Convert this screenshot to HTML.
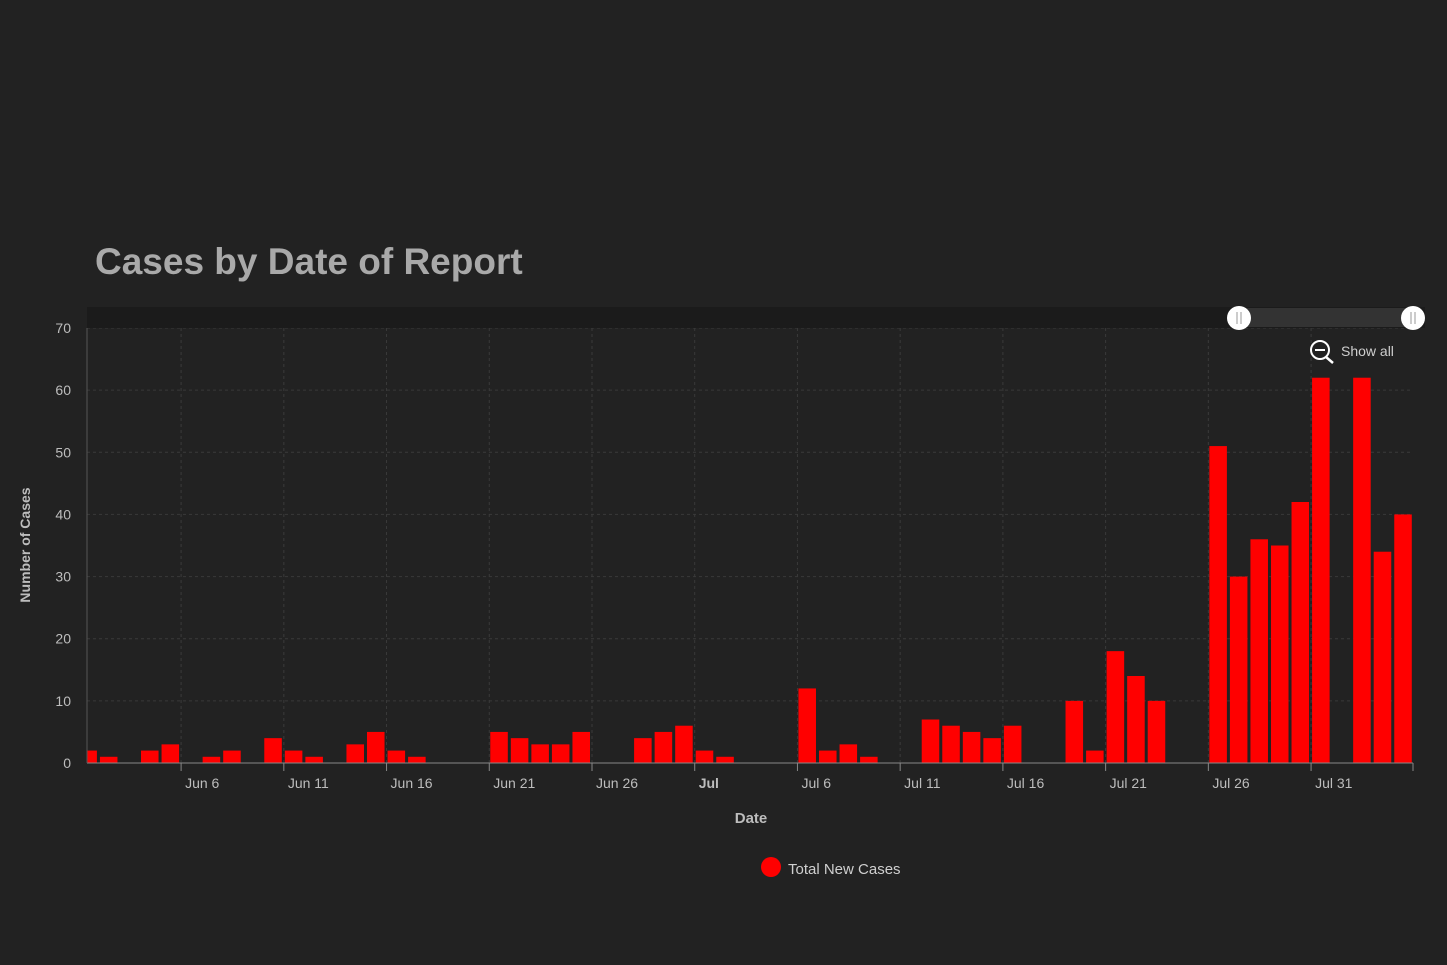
<!DOCTYPE html>
<html><head><meta charset="utf-8"><style>
body{margin:0;background:#222222;width:1447px;height:965px;overflow:hidden;font-family:"Liberation Sans",sans-serif;}
svg{display:block}
</style></head><body>
<svg id="chart" width="1447" height="965">
<rect width="1447" height="965" fill="#222222"/>
<text x="95" y="274" font-size="37" font-weight="bold" fill="#a9a9a9">Cases by Date of Report</text>
<g id="grid"></g>
<g id="bars"></g>
<g id="axes"></g>
<rect x="87" y="307" width="1338" height="21" fill="#1b1b1b"/>
<rect x="1239" y="308" width="174" height="19" fill="#333"/>
<g><circle cx="1239" cy="318" r="12" fill="#fff"/><line x1="1237" y1="312" x2="1237" y2="324" stroke="#999"/><line x1="1241" y1="312" x2="1241" y2="324" stroke="#999"/></g>
<g><circle cx="1413" cy="318" r="12" fill="#fff"/><line x1="1411" y1="312" x2="1411" y2="324" stroke="#999"/><line x1="1415" y1="312" x2="1415" y2="324" stroke="#999"/></g>
<g>
<circle cx="1320" cy="350" r="9" fill="none" stroke="#fff" stroke-width="2"/>
<line x1="1315" y1="350" x2="1325" y2="350" stroke="#fff" stroke-width="2"/>
<line x1="1326" y1="357" x2="1333" y2="363" stroke="#fff" stroke-width="2.5"/>
<text x="1341" y="356" font-size="14" fill="#cfcfcf">Show all</text>
</g>
<text transform="translate(30,545) rotate(-90)" text-anchor="middle" font-size="14" font-weight="bold" fill="#bdbdbd">Number of Cases</text>
<text x="751" y="823" text-anchor="middle" font-size="15" font-weight="bold" fill="#bdbdbd">Date</text>
<g>
<circle cx="771" cy="867" r="10" fill="#ff0000"/>
<text x="788" y="874" font-size="15" fill="#cfcfcf">Total New Cases</text>
</g>
</svg>
<script>
const values=[2,1,0,2,3,0,1,2,0,4,2,1,0,3,5,2,1,0,0,0,5,4,3,3,5,0,0,4,5,6,2,1,0,0,0,12,2,3,1,0,0,7,6,5,4,6,0,0,10,2,18,14,10,0,0,51,30,36,35,42,62,0,62,34,40];
const yTicks=[0,10,20,30,40,50,60,70];
const xTickLabels=["Jun 6","Jun 11","Jun 16","Jun 21","Jun 26","Jul","Jul 6","Jul 11","Jul 16","Jul 21","Jul 26","Jul 31"];
const xTickDays=[5,10,15,20,25,30,35,40,45,50,55,60];
const NS="http://www.w3.org/2000/svg";
const X0=87,X1=1413,Y0=763,Y1=328,dayW=20.545,startDay=0.42;
function x(d){return X0+(d-startDay)*dayW;}
function y(v){return Y0-(v/70)*(Y0-Y1);}
function mk(t,a,p){const e=document.createElementNS(NS,t);for(const k in a)e.setAttribute(k,a[k]);p.appendChild(e);return e;}
const grid=document.getElementById('grid'),bars=document.getElementById('bars'),axes=document.getElementById('axes');
yTicks.forEach(v=>{
  const l=mk('line',{x1:X0,x2:X1,y1:y(v),y2:y(v),stroke:'#3a3a3a','stroke-dasharray':'3,3'},grid);
  
  
  const t=mk('text',{x:71,y:y(v)+5,'text-anchor':'end','font-size':14,fill:'#bdbdbd'},axes);
  t.textContent=v;
  
  
});
xTickDays.forEach((d,i)=>{
  const xx=x(d);
  const l=mk('line',{x1:xx,x2:xx,y1:Y1,y2:Y0,stroke:'#3a3a3a','stroke-dasharray':'3,3'},grid);
  
  
  mk('line',{x1:xx,x2:xx,y1:Y0,y2:Y0+8,stroke:'#888'},axes);
  const t=mk('text',{x:xx+4,y:788,'font-size':14,fill:'#bdbdbd','font-weight':xTickLabels[i]==='Jul'?'bold':'normal'},axes);
  t.textContent=xTickLabels[i];
  
  
});
values.forEach((v,i)=>{
  if(!v)return;
  let l=x(i)+1,r=x(i+1)-2;
  if(l<X0)l=X0;
  const b=mk('rect',{x:l,y:y(v),width:r-l,height:Y0-y(v),fill:'#ff0000'},bars);
  
  
});
mk('line',{x1:X0,x2:X1,y1:Y0,y2:Y0,stroke:'#888'},axes);
mk('line',{x1:X0,x2:X0,y1:Y1,y2:Y0,stroke:'#555'},axes);
mk('line',{x1:X1,x2:X1,y1:Y0,y2:Y0+8,stroke:'#888'},axes);
</script>
</body></html>
